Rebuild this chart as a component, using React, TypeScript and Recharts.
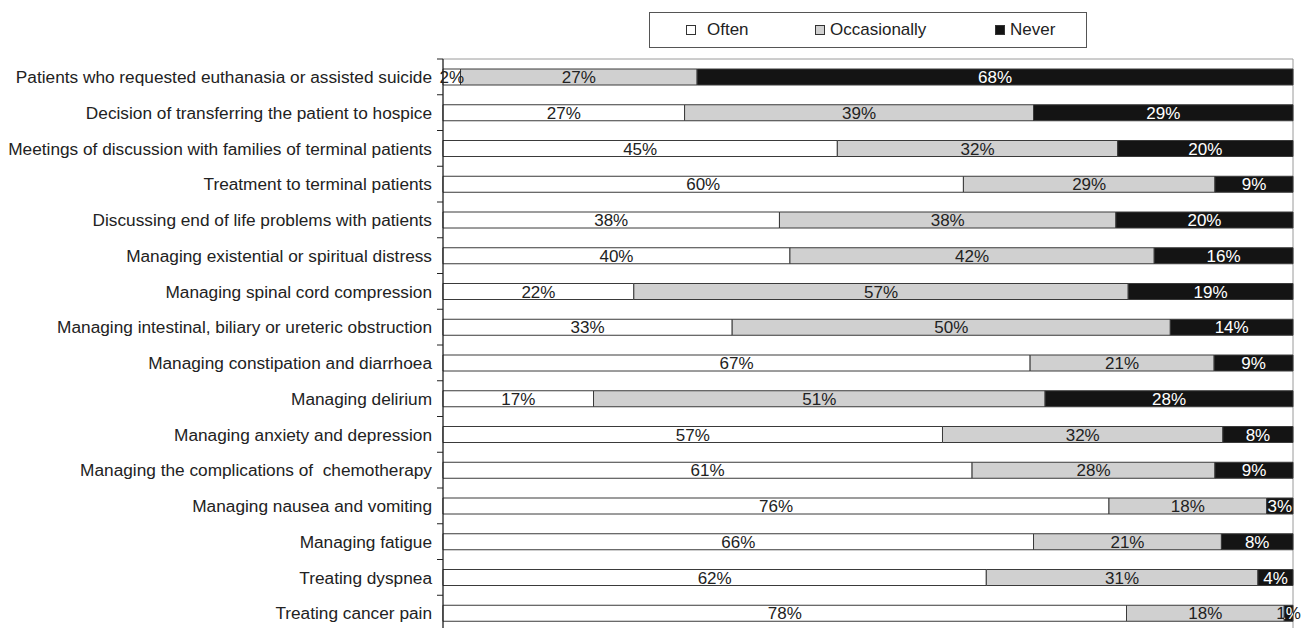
import { BarChart, Bar, XAxis, YAxis, LabelList, Legend, ReferenceArea } from "recharts";

const TOPICS = [
  "Patients who requested euthanasia or assisted suicide",
  "Decision of transferring the patient to hospice",
  "Meetings of discussion with families of terminal patients",
  "Treatment to terminal patients",
  "Discussing end of life problems with patients",
  "Managing existential or spiritual distress",
  "Managing spinal cord compression",
  "Managing intestinal, biliary or ureteric obstruction",
  "Managing constipation and diarrhoea",
  "Managing delirium",
  "Managing anxiety and depression",
  "Managing the complications of  chemotherapy",
  "Managing nausea and vomiting",
  "Managing fatigue",
  "Treating dyspnea",
  "Treating cancer pain",
];

const OFTEN = [2, 27, 45, 60, 38, 40, 22, 33, 67, 17, 57, 61, 76, 66, 62, 78];
const OCCASIONALLY = [27, 39, 32, 29, 38, 42, 57, 50, 21, 51, 32, 28, 18, 21, 31, 18];
const NEVER = [68, 29, 20, 9, 20, 16, 19, 14, 9, 28, 8, 9, 3, 8, 4, 1];

const data = TOPICS.map((topic, i) => ({
  topic,
  often: OFTEN[i],
  occasionally: OCCASIONALLY[i],
  never: NEVER[i],
}));

const FONT = "'Liberation Sans', Arial, sans-serif";
const EDGE = "#3a3a3a";

const SERIES = [
  { key: "often", name: "Often", fill: "#ffffff" },
  { key: "occasionally", name: "Occasionally", fill: "#d0d0d0" },
  { key: "never", name: "Never", fill: "#141414" },
];

// label centred on the segment; on black bars the part inside is white
const segLabel = (dark: boolean) => (props: any) => {
  const { x, y, width, height, value, index } = props;
  const cx = x + width / 2;
  const cy = y + height / 2;
  const txt = `${value}%`;
  const common = { x: cx, y: cy, dy: "0.36em", textAnchor: "middle" as const, fontSize: 17, fontFamily: FONT };
  if (!dark) {
    return <text {...common} fill="#222">{txt}</text>;
  }
  const id = `clip-never-${index}`;
  return (
    <g>
      <defs>
        <clipPath id={id}>
          <rect x={x} y={y} width={width} height={height} />
        </clipPath>
      </defs>
      <text {...common} fill="#222">{txt}</text>
      <text {...common} fill="#fff" clipPath={`url(#${id})`}>{txt}</text>
    </g>
  );
};

// category label plus a tick mark on the boundary above each band
// (x given to the tick is axis x - tickSize - tickMargin)
const TICK_SIZE = 6;
const TICK_MARGIN = 2;
const TopicTick = (props: any) => {
  const { x, y, payload } = props;
  const edgeY = y - (payload.offset ?? 0);
  const axisX = x + TICK_SIZE + TICK_MARGIN;
  return (
    <g>
      <line x1={axisX - 6} x2={axisX} y1={edgeY} y2={edgeY} stroke="#222" strokeWidth={1} />
      <text
        x={axisX - 11}
        y={y}
        dy="0.36em"
        textAnchor="end"
        fontSize={17.25}
        fontFamily={FONT}
        fill="#222"
        style={{ whiteSpace: "pre" }}
      >
        {payload.value}
      </text>
    </g>
  );
};

const LEGEND_POS = [36, 165, 345];

const LegendBox = () => (
  <div
    style={{
      position: "relative",
      width: 438,
      height: 36,
      border: "1px solid #555",
      fontFamily: FONT,
      fontSize: 17,
      color: "#222",
      boxSizing: "border-box",
      background: "#fff",
    }}
  >
    {SERIES.map((s, i) => (
      <div
        key={s.key}
        style={{ position: "absolute", left: LEGEND_POS[i], top: 7, display: "flex", alignItems: "center", whiteSpace: "nowrap" }}
      >
        <span
          style={{
            display: "inline-block",
            width: 8,
            height: 8,
            background: s.fill,
            border: "1px solid #333",
            marginRight: i === 0 ? 11 : 5,
          }}
        />
        {s.name}
      </div>
    ))}
  </div>
);

export default function App() {
  return (
    <div style={{ width: 1308, height: 623 }}>
      <BarChart
        width={1308}
        height={623}
        data={data}
        layout="vertical"
        stackOffset="expand"
        barSize={16}
        margin={{ top: 51, right: 23, left: 0, bottom: 0 }}
      >
        <XAxis type="number" domain={[0, 1]} hide />
        <YAxis
          type="category"
          dataKey="topic"
          width={435}
          interval={0}
          axisLine={{ stroke: "#111" }}
          tickLine={false}
          tickSize={TICK_SIZE}
          tickMargin={TICK_MARGIN}
          tick={<TopicTick />}
        />
        <ReferenceArea x1={0} x2={1} fill="none" stroke="#9a9a9a" strokeWidth={1} ifOverflow="visible" />
        <Legend
          layout="horizontal"
          verticalAlign="middle"
          align="center"
          content={() => <LegendBox />}
          wrapperStyle={{ position: "absolute", left: 641, top: 4, width: 438, height: 36 }}
        />
        {SERIES.map((s) => (
          <Bar
            key={s.key}
            dataKey={s.key}
            name={s.name}
            stackId="a"
            fill={s.fill}
            stroke={EDGE}
            strokeWidth={1}
            isAnimationActive={false}
          >
            <LabelList dataKey={s.key} content={segLabel(s.key === "never")} />
          </Bar>
        ))}
      </BarChart>
    </div>
  );
}
